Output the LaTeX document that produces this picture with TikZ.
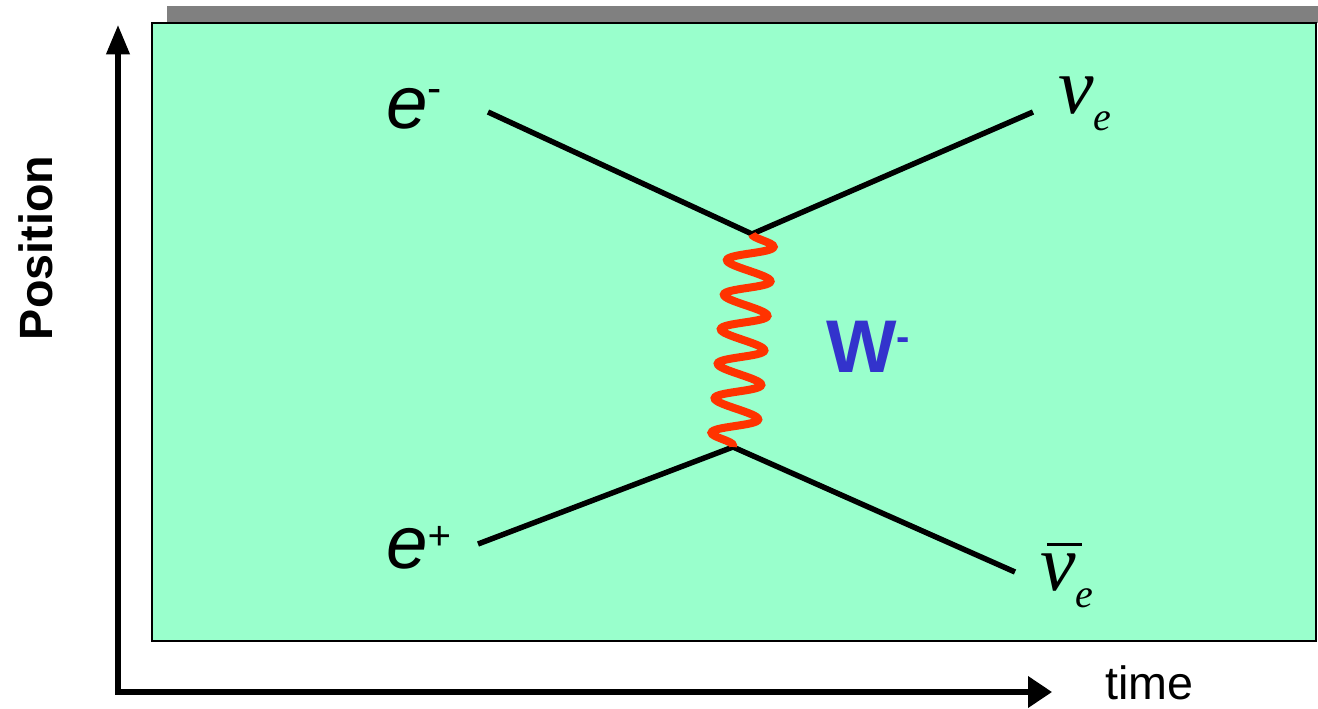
\documentclass[tikz,border=0pt]{standalone}
\usepackage{fontspec}
\setmainfont{Liberation Sans}
\newfontfamily\nufont{Liberation Serif}
\usetikzlibrary{arrows.meta,decorations.pathmorphing}
\definecolor{bgreen}{RGB}{153,255,204}
\definecolor{wred}{RGB}{255,51,0}
\definecolor{wblue}{RGB}{51,51,204}
\definecolor{topbar}{RGB}{128,128,128}
\begin{document}
\begin{tikzpicture}[x=0.75pt,y=-0.75pt,
  fermion/.style={line width=4.1pt},
  axisline/.style={line width=3.8pt, line join=miter,
    {Triangle[length=22pt,width=17pt]}-{Triangle[length=18pt,width=23pt]}},
  boson/.style={wred, line width=6pt, decorate,
    decoration={snake, amplitude=17pt, segment length=26pt}},
  lbl/.style={inner sep=0pt, anchor=base west}]
\useasboundingbox (0,0) rectangle (1318,708);
% background panel
\fill[topbar] (167,6) rectangle (1318,23);
\draw[fill=bgreen, line width=1.2pt] (152,23) rectangle (1316,641);
% axes
\coordinate (ytip) at (118,25);
\coordinate (origin) at (118,692);
\coordinate (xtip) at (1052,692);
\draw[axisline] (ytip) -- (origin) -- (xtip);
\node[rotate=90, inner sep=0pt] (pos) at (36,248) {\bfseries\fontsize{35}{35}\selectfont Position};
\node[lbl] (time) at (1105,699) {\fontsize{35}{35}\selectfont time};
% vertices and external ends
\coordinate (vtop) at (752,234);
\coordinate (vbot) at (733,447);
\coordinate (eminus) at (488,112);
\coordinate (nue) at (1033,112);
\coordinate (eplus) at (478,544);
\coordinate (nuebar) at (1015,572);
\draw[fermion] (eminus) -- (vtop) -- (nue);
\draw[fermion] (eplus) -- (vbot) -- (nuebar);
\draw[boson] (vtop) -- (vbot);
% labels
\node[lbl] (lem) at (386,128) {\fontsize{56}{56}\selectfont\itshape e\raisebox{19pt}{\fontsize{32}{32}\selectfont\upshape -}};
\node[lbl] (lep) at (386,568) {\fontsize{56}{56}\selectfont\itshape e\raisebox{14pt}{\fontsize{30}{30}\selectfont +}};
\node[lbl] (lnu) at (1058,113) {\nufont\itshape\fontsize{60}{60}\selectfont ν\raisebox{-13pt}{\fontsize{30}{30}\selectfont e}};
\node[lbl] (lnubar) at (1040,590) {\nufont\itshape\fontsize{60}{60}\selectfont\rlap{\hspace{5pt}\raisebox{33pt}{\rule{26pt}{2.2pt}}}ν\raisebox{-13pt}{\fontsize{30}{30}\selectfont e}};
\node[lbl, text=wblue] (lw) at (826,372) {\bfseries\fontsize{56}{56}\selectfont W\raisebox{16pt}{\fontsize{30}{30}\selectfont -}};
\end{tikzpicture}
\end{document}
